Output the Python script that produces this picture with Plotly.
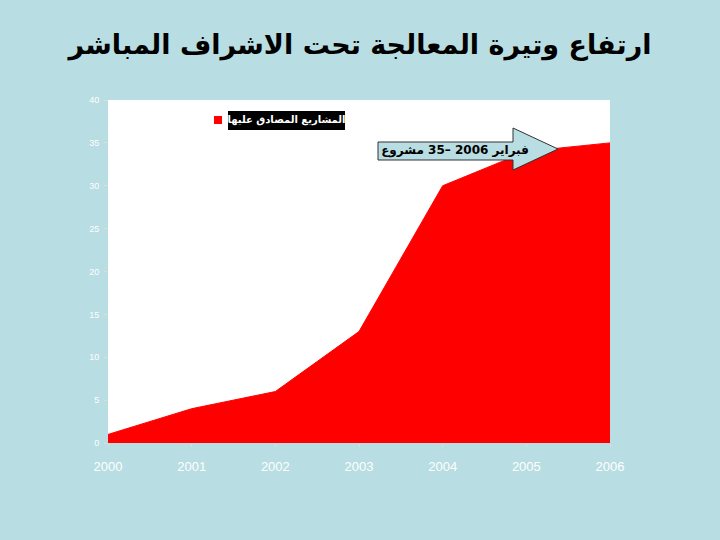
import plotly.graph_objects as go

# ---- data ----
years = [2000, 2001, 2002, 2003, 2004, 2005, 2006]
approved_projects = [1, 4, 6, 13, 30, 34, 35]
y_ticks = [0, 5, 10, 15, 20, 25, 30, 35, 40]
x_ticks = [2000, 2001, 2002, 2003, 2004, 2005, 2006]

title_text = "ارتفاع وتيرة المعالجة تحت الاشراف المباشر"
series_name = "المشاريع المصادق عليها"
callout_text = "فبراير 2006 –35 مشروع"

BG = "#b8dde2"
W, H = 720, 540
L, R, T, B = 108, 110, 100, 97
pw, ph = W - L - R, H - T - B
X0, X1, Y0, Y1 = 2000, 2006, 0, 40


def px(x):
    return (x - L) / pw


def py(y):
    return (H - B - y) / ph


def dx(x):  # page pixel -> data x (for decorations)
    return X0 + px(x) * (X1 - X0)


def dy(y):  # page pixel -> data y (for decorations)
    return Y0 + py(y) * (Y1 - Y0)


fig = go.Figure()
fig.add_trace(go.Scatter(
    x=years, y=approved_projects, mode="lines", fill="tozeroy",
    fillcolor="#ff0000", line=dict(color="#ff0000", width=1),
    name=series_name, showlegend=False, hoverinfo="x+y",
))

# block arrow callout (decoration, drawn above the area)
pts = [(378, 142), (513, 142), (513, 128), (558, 149), (513, 170), (513, 160), (378, 160), (378, 142)]
fig.add_trace(go.Scatter(
    x=[dx(a) for a, b in pts], y=[dy(b) for a, b in pts],
    mode="lines", fill="toself", fillcolor=BG,
    line=dict(color="#333333", width=1), hoverinfo="skip", showlegend=False,
))
fig.add_trace(go.Scatter(
    x=[dx(455)], y=[dy(151)], mode="text", text=[f"<b>{callout_text}</b>"],
    textposition="middle center", hoverinfo="skip", showlegend=False,
    textfont=dict(family="DejaVu Sans", size=12, color="black"),
))

# legend imitation: red swatch + white label on black box
fig.add_shape(type="rect", xref="paper", yref="paper",
              x0=px(214), x1=px(222), y0=py(124), y1=py(116),
              fillcolor="#ff0000", line=dict(width=0), layer="below")
fig.add_shape(type="rect", xref="paper", yref="paper",
              x0=px(228), x1=px(345), y0=py(130), y1=py(111),
              fillcolor="black", line=dict(width=0), layer="below")
fig.add_trace(go.Scatter(
    x=[dx(286.5)], y=[dy(120)], mode="text", text=[f"<b>{series_name}</b>"],
    textposition="middle center", hoverinfo="skip", showlegend=False,
    textfont=dict(family="DejaVu Sans", size=10, color="white"),
))

fig.update_layout(
    width=W, height=H, autosize=False,
    paper_bgcolor=BG, plot_bgcolor="white",
    margin=dict(l=L, r=R, t=T, b=B),
    title=dict(text=f"<b>{title_text}</b>", x=0.5, xanchor="center",
               y=1 - 45 / H, yanchor="middle",
               font=dict(family="DejaVu Sans", size=27, color="black")),
    xaxis=dict(range=[X0, X1], tickvals=x_ticks, ticktext=[str(v) for v in x_ticks],
               showgrid=False, zeroline=False, ticks="outside", ticklen=3,
               tickcolor="#dddddd", showline=False, ticklabelstandoff=8,
               tickfont=dict(family="Liberation Sans Narrow, Liberation Sans", size=13, color="white")),
    yaxis=dict(range=[Y0, Y1], tickvals=y_ticks, showgrid=False, zeroline=False,
               ticks="outside", ticklen=3, tickcolor="#dddddd", showline=False,
               ticklabelstandoff=3,
               tickfont=dict(family="Liberation Sans", size=9, color="white")),
)

fig.write_html("out.html", config={"displayModeBar": False},
               post_script="document.body.style.margin='0';")
